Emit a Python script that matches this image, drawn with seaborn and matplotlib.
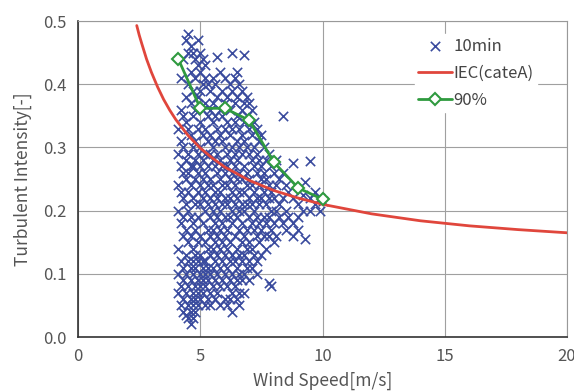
import numpy as np
import pandas as pd
import seaborn as sns
import matplotlib.pyplot as plt

# 10min data, grouped by wind speed column
col_ws = [4.1, 4.2, 4.3, 4.4, 4.5, 4.6, 4.7, 4.8, 4.9, 5.0,
          5.1, 5.2, 5.3, 5.4, 5.5, 5.6, 5.7, 5.8, 5.9, 6.0,
          6.1, 6.2, 6.3, 6.4, 6.5, 6.6, 6.7, 6.8, 6.9, 7.0,
          7.1, 7.2, 7.3, 7.4, 7.5, 7.6, 7.7, 7.8, 7.9, 8.0,
          8.1, 8.2, 8.4, 8.5, 8.6, 8.8, 9.0, 9.2, 9.3, 9.5,
          9.7, 9.9, 10.0]
col_ti = [
    [0.33, 0.29, 0.24, 0.20, 0.14, 0.10, 0.07],
    [0.41, 0.36, 0.31, 0.27, 0.23, 0.18, 0.12, 0.08, 0.05],
    [0.44, 0.35, 0.30, 0.26, 0.22, 0.19, 0.16, 0.11, 0.09, 0.06, 0.04],
    [0.47, 0.38, 0.34, 0.28, 0.25, 0.21, 0.17, 0.13, 0.10, 0.07, 0.035],
    [0.48, 0.45, 0.40, 0.33, 0.29, 0.26, 0.23, 0.20, 0.15, 0.12, 0.08, 0.05, 0.03],
    [0.46, 0.42, 0.37, 0.32, 0.27, 0.24, 0.19, 0.16, 0.11, 0.09, 0.06, 0.04, 0.02],
    [0.45, 0.39, 0.35, 0.30, 0.27, 0.22, 0.18, 0.14, 0.12, 0.10, 0.07, 0.05, 0.03],
    [0.44, 0.41, 0.36, 0.31, 0.28, 0.25, 0.21, 0.17, 0.13, 0.11, 0.08, 0.06, 0.04],
    [0.47, 0.43, 0.38, 0.33, 0.29, 0.26, 0.23, 0.19, 0.15, 0.12, 0.09, 0.07, 0.05],
    [0.45, 0.42, 0.39, 0.34, 0.30, 0.27, 0.24, 0.21, 0.16, 0.13, 0.10, 0.08, 0.06],
    [0.44, 0.40, 0.36, 0.32, 0.28, 0.25, 0.22, 0.18, 0.12, 0.11, 0.09, 0.07],
    [0.43, 0.41, 0.37, 0.33, 0.29, 0.26, 0.23, 0.20, 0.15, 0.12, 0.10, 0.08, 0.05],
    [0.40, 0.35, 0.31, 0.27, 0.24, 0.21, 0.17, 0.14, 0.11, 0.09, 0.06],
    [0.39, 0.36, 0.32, 0.29, 0.25, 0.22, 0.19, 0.16, 0.13, 0.10, 0.07, 0.05],
    [0.41, 0.37, 0.34, 0.30, 0.28, 0.24, 0.20, 0.17, 0.14, 0.11, 0.08],
    [0.40, 0.35, 0.31, 0.27, 0.23, 0.21, 0.18, 0.15, 0.12, 0.09, 0.06],
    [0.443, 0.38, 0.33, 0.29, 0.26, 0.22, 0.19, 0.16, 0.13, 0.10, 0.07],
    [0.42, 0.36, 0.32, 0.28, 0.25, 0.23, 0.20, 0.17, 0.14, 0.11, 0.08, 0.05],
    [0.39, 0.35, 0.31, 0.27, 0.24, 0.21, 0.18, 0.15, 0.12, 0.09],
    [0.41, 0.37, 0.33, 0.30, 0.26, 0.22, 0.19, 0.16, 0.13, 0.10, 0.06],
    [0.38, 0.34, 0.29, 0.27, 0.24, 0.21, 0.17, 0.14, 0.11, 0.08, 0.05],
    [0.40, 0.36, 0.32, 0.28, 0.25, 0.22, 0.19, 0.15, 0.12, 0.09, 0.06],
    [0.449, 0.39, 0.33, 0.30, 0.26, 0.23, 0.20, 0.18, 0.13, 0.10, 0.07, 0.04],
    [0.41, 0.37, 0.34, 0.29, 0.27, 0.24, 0.21, 0.16, 0.12, 0.08],
    [0.42, 0.38, 0.35, 0.31, 0.28, 0.25, 0.22, 0.19, 0.14, 0.11, 0.09, 0.06],
    [0.40, 0.33, 0.30, 0.26, 0.23, 0.20, 0.17, 0.13, 0.10, 0.07, 0.05],
    [0.39, 0.36, 0.32, 0.29, 0.25, 0.21, 0.18, 0.15, 0.12, 0.09],
    [0.446, 0.37, 0.34, 0.31, 0.27, 0.23, 0.20, 0.16, 0.13, 0.10, 0.07],
    [0.38, 0.35, 0.30, 0.26, 0.24, 0.21, 0.17, 0.14, 0.11],
    [0.37, 0.33, 0.29, 0.25, 0.22, 0.19, 0.15, 0.12, 0.09],
    [0.36, 0.32, 0.28, 0.24, 0.21, 0.18, 0.14, 0.11],
    [0.34, 0.30, 0.27, 0.23, 0.20, 0.17, 0.13],
    [0.33, 0.29, 0.26, 0.22, 0.19, 0.16, 0.12, 0.10],
    [0.31, 0.28, 0.24, 0.21, 0.18, 0.15],
    [0.32, 0.27, 0.25, 0.22, 0.17, 0.13],
    [0.30, 0.26, 0.23, 0.19, 0.16],
    [0.28, 0.25, 0.21, 0.18, 0.14],
    [0.29, 0.24, 0.22, 0.19, 0.16, 0.085],
    [0.27, 0.23, 0.20, 0.17, 0.08],
    [0.26, 0.22, 0.18, 0.15],
    [0.28, 0.24, 0.20, 0.16],
    [0.25, 0.21, 0.19],
    [0.35, 0.26, 0.22, 0.18],
    [0.24, 0.20, 0.17],
    [0.23, 0.19],
    [0.275, 0.22, 0.18, 0.16],
    [0.21, 0.19, 0.17],
    [0.225, 0.20],
    [0.245, 0.155],
    [0.278, 0.22, 0.20],
    [0.23, 0.21],
    [0.22, 0.20],
    [0.215],
]

# IEC category A curve
iec_ws = [2.4, 2.5, 2.6, 2.8, 3.0, 3.25, 3.5, 3.75, 4.0, 4.5, 5.0, 5.5, 6.0,
          7.0, 8.0, 9.0, 10.0, 12.0, 14.0, 16.0, 18.0, 20.0]
iec_ti = [0.493, 0.478, 0.465, 0.440, 0.419, 0.396, 0.376, 0.359, 0.344, 0.319,
          0.299, 0.283, 0.269, 0.248, 0.232, 0.220, 0.210, 0.195, 0.184, 0.176,
          0.170, 0.165]

# 90% percentile line
p90_ws = [4.1, 5.0, 6.0, 7.0, 8.0, 9.0, 10.0]
p90_ti = [0.440, 0.362, 0.362, 0.343, 0.277, 0.236, 0.218]

scatter = pd.DataFrame({
    'ws': np.repeat(col_ws, [len(c) for c in col_ti]),
    'ti': np.concatenate(col_ti),
})

sns.set_style('white')
plt.rcParams['font.family'] = ['Noto Sans CJK JP', 'DejaVu Sans']

fig = plt.figure(figsize=(5.74, 3.91), dpi=100)
ax = fig.add_axes([0.136, 0.138, 0.852, 0.808])

sns.scatterplot(data=scatter, x='ws', y='ti', marker='x', color='#3a4b9e',
                s=45, linewidth=1.2, label='10min', ax=ax, zorder=3)
sns.lineplot(x=iec_ws, y=iec_ti, color='#e0463c', linewidth=2,
             label='IEC(cateA)', ax=ax, zorder=4)
sns.lineplot(x=p90_ws, y=p90_ti, color='#2f9a3f', linewidth=2, marker='D',
             markersize=6, markerfacecolor='white', markeredgecolor='#2f9a3f',
             markeredgewidth=1.5, label='90%', ax=ax, zorder=5)

ax.set_xlim(0, 20)
ax.set_ylim(0, 0.5)
ax.set_xticks([0, 5, 10, 15, 20])
ax.set_yticks(np.arange(0, 0.51, 0.1))
ax.set_yticklabels(['0.0', '0.1', '0.2', '0.3', '0.4', '0.5'])
ax.grid(True, color='#a0a0a0', linewidth=0.8)
ax.set_axisbelow(True)
ax.tick_params(length=0, labelsize=12, labelcolor='#555555', pad=8)
for s in ['top', 'right']:
    ax.spines[s].set_color('#999999')
for s in ['left', 'bottom']:
    ax.spines[s].set_color('#333333')
    ax.spines[s].set_linewidth(1.2)

ax.set_xlabel('Wind Speed[m/s]', fontsize=12.5, color='#555555', labelpad=5)
ax.set_ylabel('Turbulent Intensity[-]', fontsize=12.5, color='#555555', labelpad=8)

leg = ax.legend(loc='upper right', bbox_to_anchor=(0.955, 0.985), frameon=True,
                fontsize=12, handlelength=2, borderpad=0.2, labelspacing=0.6,
                handletextpad=0.1)
leg.get_frame().set_edgecolor('white')
leg.get_frame().set_facecolor('white')
leg.get_frame().set_alpha(1)
for t in leg.get_texts():
    t.set_color('#444444')

plt.savefig('out.png', dpi=100)
